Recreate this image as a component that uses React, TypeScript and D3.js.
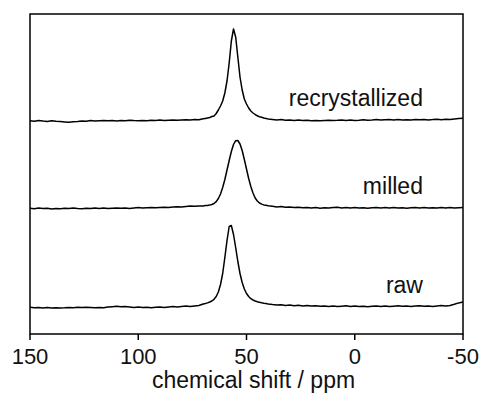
import React from 'react';
import * as d3 from 'd3';

// chemical shift grid (ppm), denser around the resonance
const ppm = [
  150, 148, 146, 144, 142, 140, 138, 136, 134, 132, 130, 128, 126, 124, 122, 120, 118, 116, 114, 112,
  110, 108, 106, 104, 102, 100, 98, 96, 94, 92, 90, 88, 86, 84, 82, 80, 78, 76, 74, 72,
  70, 69, 68, 67, 66, 65, 64, 63, 62, 61, 60, 59, 58, 57, 56, 55, 54, 53, 52, 51,
  50, 49, 48, 47, 46, 45, 44, 43, 42, 41,
  40, 38, 36, 34, 32, 30, 28, 26, 24, 22, 20, 18, 16, 14, 12, 10, 8, 6, 4, 2,
  0, -2, -4, -6, -8, -10, -12, -14, -16, -18, -20, -22, -24, -26, -28, -30, -32, -34, -36, -38,
  -40, -42, -44, -46, -48, -50,
];

const recrystallized = [
  0.3, -0.2, 0.5, 0.0, -0.4, 0.2, -0.3, -0.6, -0.9, -1.2, -0.7, -0.4, 0.1, -0.2, 0.4, 0.0, 0.3, 0.6, 0.2, 0.5,
  0.1, 0.6, 0.3, 0.8, 0.4, 0.2, 0.6, 0.3, 0.7, 0.4, 0.9, 0.5, 0.8, 1.1, 0.7, 1.0, 1.3, 0.9, 1.4, 1.2,
  2.2, 2.6, 3.0, 3.4, 4.5, 5.0, 7.5, 11, 15, 20, 28, 40, 58, 80, 92, 84, 64, 44, 31, 22,
  17, 13, 10, 8, 6.5, 5.2, 4.2, 3.8, 3.0, 2.6,
  2.0, 1.6, 1.1, 1.4, 0.8, 1.0, 0.5, 0.9, 0.4, 0.7, 0.3, 0.6, 0.2, 0.5, 0.8, 0.4, 0.7, 1.1, 0.6, 0.9,
  0.5, 0.8, 1.2, 0.7, 1.0, 1.4, 0.9, 1.3, 1.6, 1.1, 1.4, 1.0, 1.3, 0.9, 1.5, 1.2, 1.6, 1.1, 1.4, 1.8,
  1.3, 1.7, 1.4, 1.9, 2.4, 2.8,
];

const milled = [
  0.2, -0.3, 0.4, -0.1, 0.3, -0.4, 0.1, -0.2, 0.3, -0.1, 0.4, 0.0, -0.3, 0.2, -0.1, 0.5, 0.1, 0.4, 0.0, 0.3,
  0.6, 0.2, 0.5, 0.1, 0.6, 0.9, 0.5, 0.8, 1.1, 0.7, 1.0, 1.3, 0.9, 1.4, 1.8, 1.5, 2.0, 2.4, 2.2, 2.6,
  2.6, 2.9, 3.1, 3.4, 4.0, 5.0, 6.8, 10, 14.5, 21, 29, 38.5, 48, 57, 64, 67.8, 68, 64.5, 58, 49,
  39.5, 30, 22, 15.5, 10.5, 7.5, 5.5, 4.4, 3.6, 3.2,
  2.8, 2.2, 1.6, 1.9, 1.2, 1.5, 0.9, 1.3, 0.7, 1.1, 0.5, 0.9, 0.3, 0.8, 0.4, 0.9, 1.2, 0.6, 1.0, 0.5,
  0.9, 0.4, 0.8, 0.3, 0.7, 1.1, 0.6, 1.0, 0.5, 0.9, 0.4, 0.8, 0.3, 0.7, 1.1, 0.6, 0.9, 0.4, 0.8, 0.5,
  1.0, 0.6, 0.9, 0.5, 0.8, 1.0,
];

const raw = [
  0.2, -0.3, 0.1, -0.4, -0.1, -0.5, -0.2, -0.6, -0.3, 0.1, -0.2, 0.2, -0.1, 0.3, 0.0, -0.3, 0.1, -0.2, 0.4, 0.8,
  1.2, 0.7, 0.9, 0.5, 0.1, 0.4, 0.0, 0.3, -0.2, 0.2, 0.5, 0.1, 0.6, 0.9, 0.6, 1.0, 1.4, 1.1, 1.6, 2.0,
  3.5, 4.0, 4.6, 5.5, 6.5, 8.2, 11, 15.5, 23, 34, 50, 67, 81, 82, 73, 60, 46, 34, 25, 18.5,
  14, 11, 8.8, 7.5, 6.5, 5.8, 5.2, 4.7, 4.3, 4.0,
  3.6, 3.0, 2.5, 2.8, 2.1, 2.4, 1.8, 2.2, 1.6, 2.0, 1.4, 1.8, 1.2, 1.6, 1.0, 1.4, 0.9, 1.3, 1.7, 1.1,
  1.5, 0.9, 1.3, 0.8, 1.2, 1.6, 1.0, 1.4, 0.9, 1.3, 1.7, 1.2, 1.5, 1.0, 1.4, 1.8, 1.3, 1.6, 1.1, 1.5,
  1.9, 1.4, 2.0, 3.2, 4.6, 5.5,
];

const sampleNames = ['raw', 'milled', 'recrystallized'];
const sampleSeries = [raw, milled, recrystallized];
const stackOffsets = [26.5, 125.5, 213];

const xTicks = [150, 100, 50, 0, -50];
const xTitle = 'chemical shift / ppm';

const width = 482;
const height = 401;
const margin = { top: 14, right: 19, bottom: 67, left: 30 };

export default function App() {
  const innerW = width - margin.left - margin.right;
  const innerH = height - margin.top - margin.bottom;

  const x = d3.scaleLinear().domain([150, -50]).range([margin.left, margin.left + innerW]);
  const y = d3.scaleLinear().domain([0, 320]).range([margin.top + innerH, margin.top]);

  const font = '"Liberation Sans", Arial, sans-serif';
  const bottom = margin.top + innerH;
  const right = margin.left + innerW;

  return (
    <div>
      <style>{'body{margin:0}'}</style>
      <svg width={width} height={height} style={{ display: 'block' }}>
        <rect width={width} height={height} fill="#fff" />
        {sampleSeries.map((series, i) => {
          const line = d3.line<number>()
            .x((_, j) => x(ppm[j]))
            .y(d => y(d + stackOffsets[i]));
          return (
            <path key={sampleNames[i]} d={line(series) || ''} fill="none" stroke="#000" strokeWidth={1.5} strokeLinejoin="round" />
          );
        })}
        {sampleSeries.map((series, i) => (
          <text key={'lbl' + i} x={x(-31.5)} y={y(stackOffsets[i] + 15)} textAnchor="end"
            fontFamily={font} fontSize={23} fill="#111">{sampleNames[i]}</text>
        ))}
        <rect x={margin.left} y={margin.top} width={innerW} height={innerH} fill="none" stroke="#000" strokeWidth={1.5} />
        {xTicks.map(t => (
          <g key={t}>
            <line x1={x(t)} x2={x(t)} y1={bottom} y2={bottom + 6} stroke="#000" strokeWidth={1.5} />
            <text x={x(t)} y={bottom + 30} textAnchor="middle" fontFamily={font} fontSize={22} fill="#111">{t}</text>
          </g>
        ))}
        <text x={(margin.left + right) / 2 + 7} y={388} textAnchor="middle" fontFamily={font} fontSize={23} fill="#111">{xTitle}</text>
      </svg>
    </div>
  );
}
